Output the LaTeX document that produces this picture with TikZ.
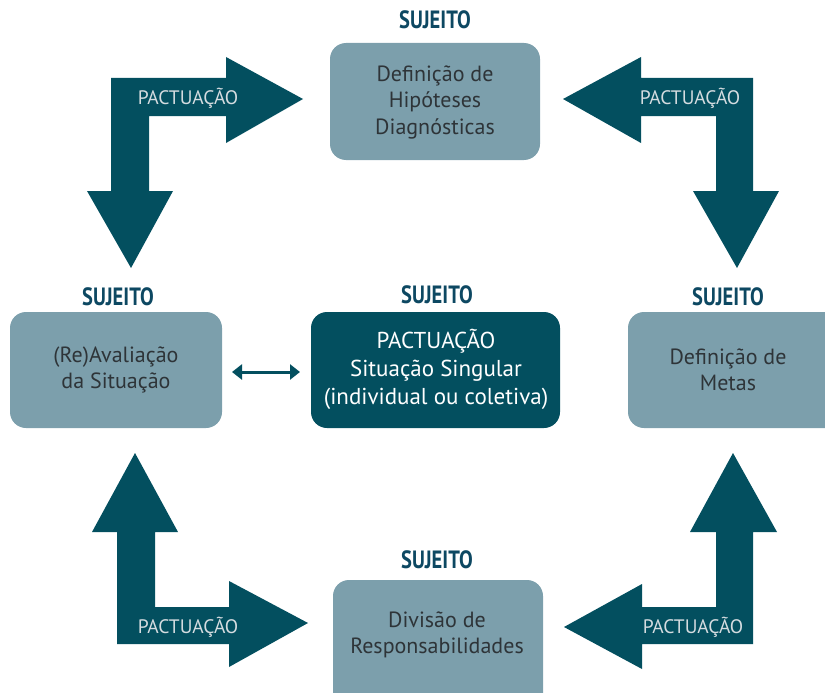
\documentclass[tikz,border=0pt]{standalone}
\usepackage{fontspec}
\usetikzlibrary{arrows.meta}
\setmainfont{PT Sans}
\newfontfamily\narrowfont[FakeStretch=0.82]{PT Sans Bold}
\definecolor{dark}{HTML}{034F5F}
\definecolor{light}{HTML}{7C9FAC}
\definecolor{suj}{HTML}{0D4862}
\definecolor{btext}{HTML}{2E3438}
\definecolor{ptext}{HTML}{D5DCE0}
\begin{document}
\begin{tikzpicture}[x=1pt,y=-1pt,
  lbox/.style={fill=light,rounded corners=16pt,draw=none},
  dbox/.style={fill=dark,rounded corners=16pt,draw=none},
  boxtxt/.style={text=btext,font=\fontsize{22}{26.5}\selectfont,align=center},
  suject/.style={text=suj,font=\narrowfont\fontsize{25}{28}\selectfont},
  pact/.style={text=ptext,font=\fontsize{19.5}{22}\selectfont},
  bigarrow/.style={fill=dark,draw=none}]
\useasboundingbox (0,0) rectangle (825,693);

% boxes
\fill[lbox] (330,43) rectangle (540,160);
\node[boxtxt] (top) at (435,102) {Definição de\\Hipóteses\\Diagnósticas};
\fill[lbox] (10,312) rectangle (222,428);
\node[boxtxt] (left) at (116,370) {(Re)Avaliação\\da Situação};
\fill[dbox] (311,312) rectangle (560,428);
\node[boxtxt,text=white,font=\fontsize{23}{28}\selectfont] (center) at (436,369) {PACTUAÇÃO\\Situação Singular\\(individual ou coletiva)};
\fill[lbox] (628,312) rectangle (845,428);
\node[boxtxt] (right) at (728,370) {Definição de\\Metas};
\fill[lbox] (333,580) rectangle (543,710);
\node[boxtxt] (bottom) at (437,635) {Divisão de\\Responsabilidades};

% SUJEITO labels
\node[suject] (s1) at (435,20) {SUJEITO};
\node[suject] (s2) at (118,297) {SUJEITO};
\node[suject] (s3) at (437,295) {SUJEITO};
\node[suject] (s4) at (728,297) {SUJEITO};
\node[suject] (s5) at (437,560) {SUJEITO};

% big L arrows
\fill[bigarrow] (111,78) -- (226,78) -- (226,57) -- (303,99) -- (226,143) -- (226,116)
  -- (149,116) -- (149,191) -- (173,191) -- (131,268) -- (87,191) -- (111,191) -- cycle;
\node[pact] (p1) at (188,98) {PACTUAÇÃO};

\fill[bigarrow] (753,78) -- (641,78) -- (641,57) -- (563,99) -- (641,143) -- (641,116)
  -- (716,116) -- (716,191) -- (693,191) -- (737,268) -- (779,191) -- (753,191) -- cycle;
\node[pact] (p2) at (690,98) {PACTUAÇÃO};

\fill[bigarrow] (117,644) -- (229,644) -- (229,667) -- (308,623) -- (229,581) -- (229,607)
  -- (155,607) -- (155,532) -- (178,532) -- (135,453) -- (92,532) -- (117,532) -- cycle;
\node[pact] (p3) at (188,627) {PACTUAÇÃO};

\fill[bigarrow] (753,644) -- (642,644) -- (642,669) -- (564,627) -- (642,584) -- (642,607)
  -- (716,607) -- (716,532) -- (690,532) -- (733,453) -- (777,532) -- (753,532) -- cycle;
\node[pact] (p4) at (693,627) {PACTUAÇÃO};

% small double arrow
\coordinate (da) at (232,372);
\coordinate (db) at (300,372);
\draw[dark,line width=3pt,{Triangle[length=10pt,width=15pt]}-{Triangle[length=10pt,width=15pt]}] (da) -- (db);
\end{tikzpicture}
\end{document}
